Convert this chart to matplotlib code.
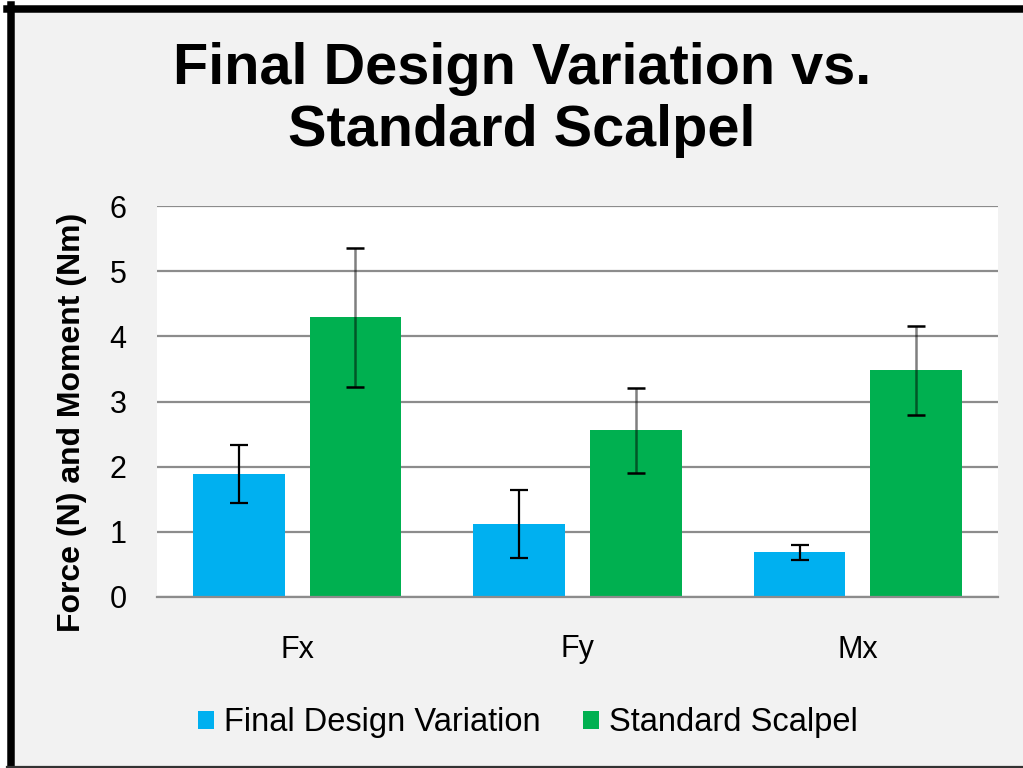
import matplotlib
matplotlib.use("Agg")
import matplotlib.pyplot as plt
import numpy as np
from matplotlib.lines import Line2D
from matplotlib.patches import Rectangle

categories = ["Fx", "Fy", "Mx"]
series_names = ["Final Design Variation", "Standard Scalpel"]
final_design = [1.89, 1.12, 0.69]
final_design_err = [0.45, 0.52, 0.115]
standard_scalpel = [4.29, 2.56, 3.48]
standard_scalpel_err = [1.06, 0.65, 0.68]
yticks = [0, 1, 2, 3, 4, 5, 6]

plt.rcParams['font.family'] = ['Liberation Sans', 'DejaVu Sans']

W, H = 1023, 768
fig = plt.figure(figsize=(W / 100, H / 100), dpi=100, facecolor='white')

# background panel and frame
fig.add_artist(Rectangle((10.5 / W, 1 - 766 / H), 1.0, (766 - 8.5) / H,
                         transform=fig.transFigure, facecolor='#f2f2f2',
                         edgecolor='none', zorder=-10))
fig.add_artist(Line2D([10.5 / W, 10.5 / W], [1 - 768 / H, 1 - 5 / H],
                      transform=fig.transFigure, color='black', lw=5.4))
fig.add_artist(Line2D([7 / W, 1.0], [1 - 8.5 / H, 1 - 8.5 / H],
                      transform=fig.transFigure, color='black', lw=5.4))
fig.add_artist(Line2D([7 / W, 1.0], [1 - 766.5 / H, 1 - 766.5 / H],
                      transform=fig.transFigure, color='#333333', lw=1.6))

ax = fig.add_axes([157 / W, 1 - 597 / H, (998 - 157) / W, (597 - 206) / H])
ax.set_facecolor('white')

x = np.arange(len(categories))
bw = 0.327
off = 0.208
ax.bar(x - off, final_design, bw, color='#00b0f0', zorder=3,
       label=series_names[0])
ax.bar(x + off, standard_scalpel, bw, color='#00b050', zorder=3,
       label=series_names[1])

e1 = ax.errorbar(x - off, final_design, yerr=final_design_err, fmt='none',
                 ecolor='black', elinewidth=1.6, capsize=6.5, capthick=1.6,
                 zorder=4)
e2 = ax.errorbar(x + off, standard_scalpel, yerr=standard_scalpel_err,
                 fmt='none', ecolor='black', elinewidth=1.8, capsize=6.5,
                 capthick=1.8, zorder=4)
for lc in e2[2]:
    lc.set_color((0, 0, 0, 0.5))

ax.set_xlim(-0.5, 2.5)
ax.set_ylim(0, 6)
ax.set_yticks(yticks)
ax.set_yticklabels([str(v) for v in yticks], fontsize=22)
ax.set_xticks(x)
ax.set_xticklabels(categories, fontsize=22)
ax.tick_params(axis='x', length=0, pad=27)
ax.tick_params(axis='y', length=0, pad=22)
ax.yaxis.grid(True, color='#8c8c8c', lw=1.6, zorder=1)
ax.set_axisbelow(True)
for s in ['top', 'right', 'left']:
    ax.spines[s].set_visible(False)
ax.spines['bottom'].set_color('#8c8c8c')
ax.spines['bottom'].set_linewidth(1.6)
ax.spines['bottom'].set_zorder(5)

ax.set_ylabel("Force (N) and Moment (Nm)", fontsize=23, fontweight='bold')
ax.yaxis.set_label_coords((72 - 157) / (998 - 157), (597 - 422) / (597 - 206))
ax.yaxis.label.set_va('center')

fig.text(0.51, 1 - 100 / H, "Final Design Variation vs.\nStandard Scalpel",
         ha='center', va='center', fontsize=41.5, fontweight='bold',
         linespacing=1.17)

leg = ax.legend(loc='center', bbox_to_anchor=(528 / W, 1 - 723 / H),
                bbox_transform=fig.transFigure, ncol=2, frameon=False,
                fontsize=23.5, handlelength=0.5, handleheight=0.5,
                handletextpad=0.3, columnspacing=1.3)

fig.savefig("out.png", dpi=100, facecolor=fig.get_facecolor())
